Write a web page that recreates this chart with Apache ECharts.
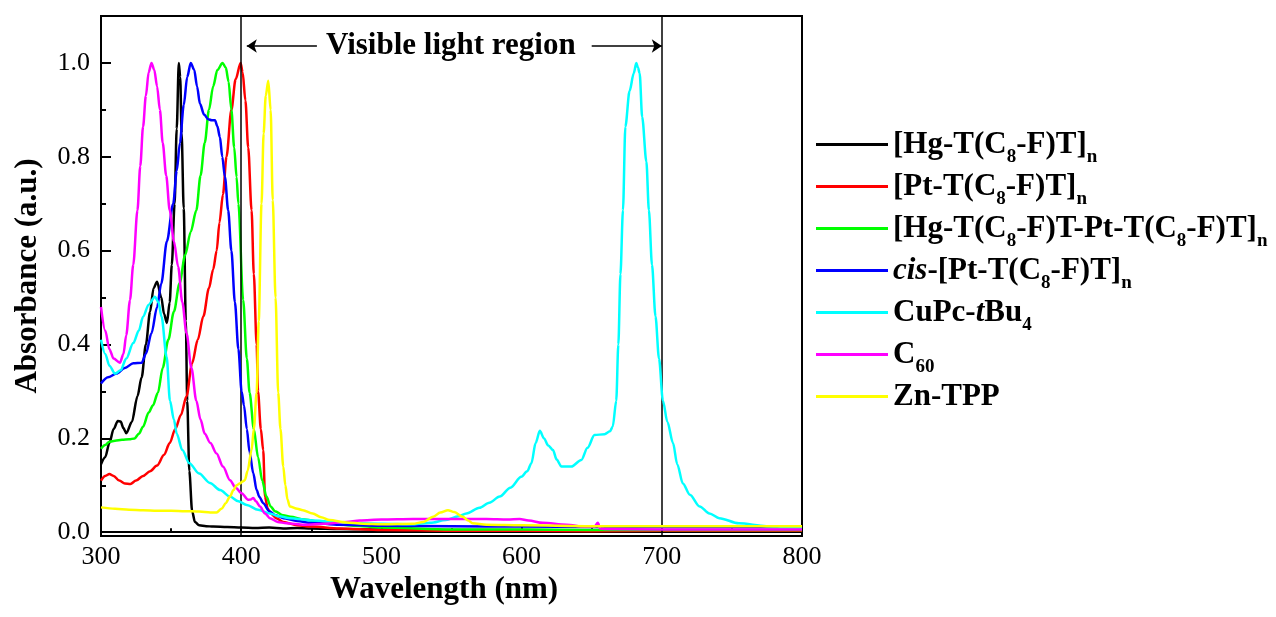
<!DOCTYPE html>
<html>
<head>
<meta charset="utf-8">
<script src="https://cdn.jsdelivr.net/npm/echarts@6/dist/echarts.min.js"></script>
<style>html,body{margin:0;padding:0;background:#fff;}#c{width:1276px;height:617px;}</style>
</head>
<body>
<div id="c"></div>
<script>
// ---- data ----
const seriesNames = ['[Hg-T(C8-F)T]n', '[Pt-T(C8-F)T]n', '[Hg-T(C8-F)T-Pt-T(C8-F)T]n', 'cis-[Pt-T(C8-F)T]n', 'CuPc-tBu4', 'C60', 'Zn-TPP'];
const seriesColors = ['#000000', '#ff0000', '#00ff00', '#0000ff', '#00ffff', '#ff00ff', '#ffff00'];

const hgWl  = [300,303,306,309,312,314,316,318,322,326,329,332,335,337.5,340,343,345,347,349,350.5,352.5,354,355.5,356.5,357.5,359,360.5,361.5,363,365,367,370,375,380,390,400,410,420,430,440,450,470,500,550,600,650,700,750,800];
const hgAbs = [0.145,0.16,0.19,0.22,0.237,0.236,0.222,0.211,0.235,0.29,0.33,0.40,0.47,0.52,0.534,0.50,0.465,0.446,0.49,0.57,0.70,0.86,1.0,0.97,0.85,0.69,0.45,0.28,0.13,0.045,0.022,0.015,0.013,0.012,0.011,0.010,0.009,0.010,0.008,0.009,0.008,0.007,0.006,0.005,0.005,0.004,0.004,0.004,0.004];

const ptWl  = [300,303,306,309,313,317,321,325,330,335,340,345,349,353,357,361,365,369,373,377,380,382.5,384.5,387,389.5,393,396,399.6,401,403,405,407.4,409,411,412,414,415.7,417,419,421,425,430,440,450,470,500,550,600,650,700,750,800];
const ptAbs = [0.11,0.12,0.124,0.12,0.11,0.104,0.103,0.11,0.12,0.13,0.142,0.165,0.19,0.22,0.25,0.29,0.36,0.41,0.46,0.52,0.56,0.60,0.66,0.72,0.80,0.90,0.965,1.0,0.98,0.92,0.82,0.686,0.55,0.40,0.30,0.22,0.175,0.075,0.05,0.04,0.03,0.022,0.015,0.012,0.008,0.005,0.003,0.003,0.002,0.003,0.003,0.003];

const hgPtWl  = [300,303,306,310,315,320,324,327,330,334,337,340.6,344,348,352,356,360,364,368,371,374,377,380,383,386.7,389,391,393,395,396.7,398,401.4,404,406,409,412,415,418,421,424,430,435,445,460,480,500,550,600,650,700,750,800];
const hgPtAbs = [0.178,0.186,0.193,0.195,0.197,0.198,0.2,0.21,0.225,0.255,0.27,0.297,0.35,0.41,0.47,0.53,0.59,0.64,0.686,0.76,0.83,0.9,0.95,0.985,1.0,0.99,0.96,0.9,0.82,0.757,0.70,0.495,0.37,0.297,0.22,0.16,0.11,0.076,0.055,0.045,0.036,0.033,0.027,0.02,0.014,0.01,0.006,0.006,0.005,0.005,0.005,0.005];

const cisWl  = [300,305,311,317,323,329,332,336,340,343,347,351.5,354,356.3,359,361.5,364,366.5,368.5,370.6,373.5,376.5,379,381.3,383,384.8,386.5,388.4,390.7,393,395.5,398,400.3,402,404,406,408.6,411,413,415.7,420,424,430,440,450,470,500,550,600,650,700,750,800];
const cisAbs = [0.317,0.33,0.338,0.35,0.36,0.361,0.38,0.424,0.48,0.53,0.62,0.70,0.77,0.83,0.91,0.97,1.0,0.985,0.95,0.913,0.89,0.88,0.878,0.878,0.865,0.842,0.80,0.757,0.686,0.60,0.49,0.39,0.30,0.27,0.22,0.17,0.126,0.09,0.075,0.062,0.045,0.037,0.03,0.024,0.02,0.016,0.014,0.013,0.012,0.011,0.011,0.011,0.011];

const cuWl  = [300,303,306,310,314,318,323,327,330,334,338.5,341,343.2,346.8,349.2,352,354,358,363,370,377.7,385,392,398,404,412,420.5,427,434.7,451,475,500,522.6,535,546,555,560.6,570,577,584.4,592,599.8,604,607,610,613,616,619,622.4,625,628.4,635.5,642.6,647,652,659.2,663,665,667.5,669,670.5,672.3,674,677,680,681.8,683,684.2,686,689,690.8,693,695.5,698,700.8,704,708,711,715,720,727,734,741,755,774.5,790,800];
const cuAbs = [0.41,0.38,0.355,0.338,0.345,0.37,0.403,0.43,0.459,0.485,0.502,0.49,0.459,0.374,0.28,0.24,0.21,0.175,0.147,0.125,0.105,0.09,0.076,0.066,0.058,0.048,0.04,0.034,0.03,0.025,0.02,0.018,0.017,0.02,0.026,0.034,0.04,0.052,0.063,0.076,0.095,0.118,0.13,0.147,0.19,0.216,0.2,0.185,0.175,0.155,0.14,0.14,0.154,0.18,0.207,0.209,0.215,0.225,0.28,0.4,0.55,0.686,0.864,0.94,0.978,1.0,0.99,0.978,0.885,0.79,0.686,0.57,0.46,0.37,0.28,0.235,0.19,0.145,0.104,0.08,0.055,0.04,0.03,0.019,0.013,0.011,0.01];

const c60Wl  = [300,303,306,309,313.5,316,318,320.7,323,326,328,330,332,334,336,338,340,342,344,346.5,349,352,355,358,361,364.5,368,371,374,378,382.4,387,392,396,400.3,405,407,408.6,410.5,413.4,417,420.5,426,432.3,445,460,475,484.6,500,522.6,550,575,590,598.6,605,615,632,645,652,654.4,656,660,700,750,800];
const c60Abs = [0.48,0.43,0.39,0.37,0.361,0.38,0.42,0.495,0.57,0.686,0.78,0.864,0.93,0.98,1.0,0.985,0.95,0.9,0.83,0.76,0.686,0.62,0.566,0.49,0.424,0.35,0.28,0.24,0.21,0.19,0.168,0.14,0.111,0.095,0.083,0.069,0.07,0.073,0.066,0.055,0.04,0.03,0.022,0.019,0.016,0.018,0.022,0.025,0.027,0.028,0.028,0.028,0.027,0.028,0.025,0.02,0.016,0.012,0.012,0.02,0.008,0.007,0.006,0.006,0.006];

const znWl  = [300,310,320,330,340,350,360,370,378,382.4,386,389,392,394.5,396.7,399,401,402.6,404.5,407.4,409,411,412.5,414.5,416,417.5,419.3,421,422.5,424.5,426.4,428,430,431.5,433,434.7,440,444,451,457,463,475,487,500,522.6,530,537,542,547.5,552,558,562,565,575,600,650,700,750,800];
const znAbs = [0.053,0.05,0.048,0.047,0.046,0.046,0.045,0.044,0.042,0.042,0.05,0.062,0.076,0.09,0.1,0.104,0.108,0.111,0.13,0.175,0.22,0.297,0.45,0.7,0.85,0.93,0.962,0.9,0.708,0.5,0.297,0.22,0.14,0.1,0.07,0.055,0.05,0.047,0.04,0.032,0.026,0.021,0.018,0.017,0.018,0.022,0.033,0.042,0.047,0.043,0.033,0.025,0.019,0.016,0.015,0.013,0.013,0.013,0.013];

const wlSets  = [hgWl, ptWl, hgPtWl, cisWl, cuWl, c60Wl, znWl];
const absSets = [hgAbs, ptAbs, hgPtAbs, cisAbs, cuAbs, c60Abs, znAbs];

const yLabelValues = [0, 0.2, 0.4, 0.6, 0.8, 1.0];
const yMinorValues = [0.1, 0.3, 0.5, 0.7, 0.9];
const visibleBounds = [400, 700];
const annotationText = 'Visible light region';

const legendRich = {
  '[Hg-T(C8-F)T]n': '{m|[Hg-T(C}{s|8}{m|-F)T]}{s|n}',
  '[Pt-T(C8-F)T]n': '{m|[Pt-T(C}{s|8}{m|-F)T]}{s|n}',
  '[Hg-T(C8-F)T-Pt-T(C8-F)T]n': '{m|[Hg-T(C}{s|8}{m|-F)T-Pt-T(C}{s|8}{m|-F)T]}{s|n}',
  'cis-[Pt-T(C8-F)T]n': '{i|cis}{m|-[Pt-T(C}{s|8}{m|-F)T]}{s|n}',
  'CuPc-tBu4': '{m|CuPc-}{i|t}{m|Bu}{s|4}',
  'C60': '{m|C}{s|60}',
  'Zn-TPP': '{m|Zn-TPP}'
};

// ---- chart ----
const FONT = 'Liberation Serif';
const chart = echarts.init(document.getElementById('c'), null, {renderer: 'canvas'});

const series = seriesNames.map((name, k) => ({
  name: name,
  type: 'line',
  data: wlSets[k].map((w, i) => [w, absSets[k][i]]),
  showSymbol: false,
  symbol: 'none',
  smooth: 0.3,
  smoothMonotone: 'x',
  lineStyle: {color: seriesColors[k], width: 2.5},
  itemStyle: {color: seriesColors[k]},
  z: 2 + k
}));

series.push({
  name: 'annot',
  type: 'line',
  data: [],
  symbol: 'none',
  z: 20,
  markLine: {
    silent: true,
    animation: false,
    symbol: 'none',
    label: {show: false},
    lineStyle: {color: '#000', width: 1.5, type: 'solid'},
    emphasis: {disabled: true},
    data: [
      {xAxis: visibleBounds[0]},
      {xAxis: visibleBounds[1]},
      [{coord: [454, 1.036], symbol: 'none'}, {coord: [visibleBounds[0] + 4, 1.036], symbol: 'arrow', symbolSize: 10}],
      [{coord: [650, 1.036], symbol: 'none'}, {coord: [visibleBounds[1], 1.036], symbol: 'arrow', symbolSize: 10}]
    ]
  },
  markPoint: {
    silent: true,
    animation: false,
    symbol: 'rect',
    symbolSize: 1,
    itemStyle: {color: 'rgba(0,0,0,0)'},
    label: {show: true, position: 'inside', color: '#000', fontFamily: FONT, fontWeight: 'bold', fontSize: 31, formatter: annotationText},
    data: [{coord: [549.5, 1.036]}]
  }
});

const option = {
  animation: false,
  backgroundColor: '#fff',
  grid: {left: 101, right: 474, top: 16, bottom: 81, show: true, borderColor: '#000', borderWidth: 2, backgroundColor: 'transparent'},
  xAxis: {
    type: 'value', min: 300, max: 800, interval: 100,
    name: 'Wavelength (nm)', nameLocation: 'middle', nameGap: 27,
    nameTextStyle: {fontFamily: FONT, fontWeight: 'bold', fontSize: 31, color: '#000', padding: [0, 15, 0, 0]},
    axisLine: {show: true, lineStyle: {color: '#000', width: 2}},
    axisTick: {show: true, inside: true, length: 6, lineStyle: {color: '#000', width: 2}},
    minorTick: {show: true, splitNumber: 2, length: 4, lineStyle: {color: '#000', width: 2}},
    axisLabel: {fontFamily: FONT, fontSize: 26, color: '#000', margin: 8},
    splitLine: {show: false}, minorSplitLine: {show: false}
  },
  yAxis: [{
    type: 'value', min: -0.008, max: 1.1,
    name: 'Absorbance (a.u.)', nameLocation: 'middle', nameGap: 58,
    nameTextStyle: {fontFamily: FONT, fontWeight: 'bold', fontSize: 31, color: '#000'},
    axisLine: {show: true, lineStyle: {color: '#000', width: 2}},
    axisTick: {show: true, inside: true, length: 10, lineStyle: {color: '#000', width: 2}, customValues: yLabelValues},
    axisLabel: {fontFamily: FONT, fontSize: 26, color: '#000', margin: 11, customValues: yLabelValues, formatter: v => v.toFixed(1)},
    splitLine: {show: false}
  }, {
    type: 'value', min: -0.008, max: 1.1, position: 'left',
    axisLine: {show: false},
    axisTick: {show: true, inside: true, length: 5, lineStyle: {color: '#000', width: 2}, customValues: yMinorValues},
    axisLabel: {show: false, customValues: yMinorValues},
    splitLine: {show: false}
  }],
  legend: {
    orient: 'vertical', left: 816, top: 129, padding: 0,
    itemWidth: 72, itemHeight: 3, itemGap: 4, icon: 'rect',
    selectedMode: false,
    data: seriesNames,
    formatter: name => legendRich[name],
    textStyle: {
      color: '#000',
      rich: {
        m: {fontFamily: FONT, fontWeight: 'bold', fontSize: 31, padding: [6, 0, 6, 0], color: '#000'},
        i: {fontFamily: FONT, fontWeight: 'bold', fontStyle: 'italic', fontSize: 31, padding: [6, 0, 6, 0], color: '#000'},
        s: {fontFamily: FONT, fontWeight: 'bold', fontSize: 19, padding: [26, 0, 0, 0], color: '#000'}
      }
    }
  },
  series: series
};
chart.setOption(option);
</script>
</body>
</html>
